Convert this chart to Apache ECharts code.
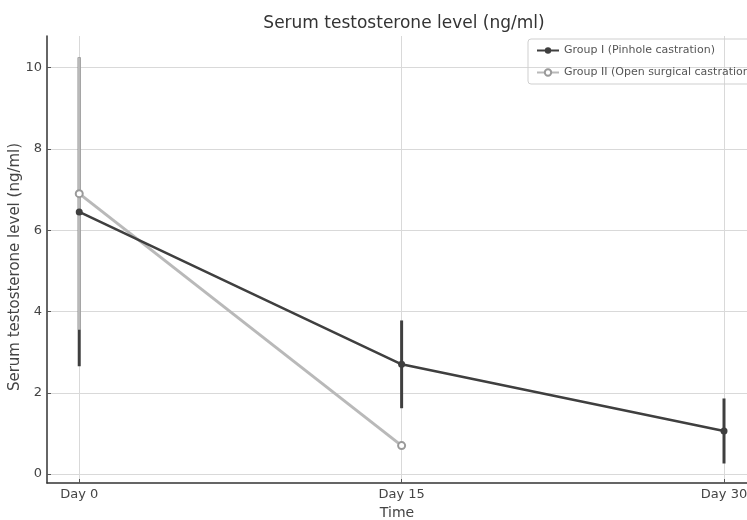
<!DOCTYPE html>
<html>
<head>
<meta charset="utf-8">
<script src="https://cdn.jsdelivr.net/npm/echarts@6/dist/echarts.min.js"></script>
<style>
  html, body { margin: 0; padding: 0; background: #fff; }
  #chart { width: 747px; height: 520px; }
</style>
</head>
<body>
<div id="chart"></div>
<script>
// values
const dayTicks = [0, 15, 30]
const dayLabels = ['Day 0', 'Day 15', 'Day 30']
const yTicks = [0, 2, 4, 6, 8, 10]

const group1Days = [0, 15, 30]
const group1Mean = [6.45, 2.7, 1.06]
const group1Sd = [3.8, 1.08, 0.8]

const group2Days = [0, 15]
const group2Mean = [6.9, 0.7]
const group2Sd = [3.35, 0.05]

const darkColor = '#3f3f3f'
const lightColor = '#b9b9b9'

function errorData(days, mean, sd) {
  return days.map((d, i) => [d, mean[i] - sd[i], mean[i] + sd[i]])
}

function errorBars(color) {
  return function(params, api) {
    const p1 = api.coord([api.value(0), api.value(1)])
    const p2 = api.coord([api.value(0), api.value(2)])
    return {
      type: 'line',
      shape: { x1: p1[0], y1: p1[1], x2: p2[0], y2: p2[1] },
      style: { stroke: color, lineWidth: 3 }
    }
  }
}

const chart = echarts.init(document.getElementById('chart'))
chart.setOption({
  animation: false,
  textStyle: { fontFamily: 'DejaVu Sans' },
  title: {
    text: 'Serum testosterone level (ng/ml)',
    left: 399,
    top: 10,
    textAlign: 'center',
    textStyle: { fontSize: 17, fontWeight: 'normal', color: '#333' }
  },
  // y axis title, placed by hand so it sits where the figure has it
  graphic: [{
    type: 'text',
    x: 15,
    y: 267,
    rotation: Math.PI / 2,
    style: {
      text: 'Serum testosterone level (ng/ml)',
      fontFamily: 'DejaVu Sans',
      fontSize: 15,
      fill: '#444',
      align: 'center',
      verticalAlign: 'middle'
    }
  }],
  legend: {
    orient: 'vertical',
    left: 528,
    top: 39,
    padding: [6, 8, 6, 8],
    itemGap: 11,
    itemWidth: 22,
    itemHeight: 8,
    borderColor: '#cfcfcf',
    borderWidth: 1,
    borderRadius: 3,
    textStyle: { fontSize: 11, color: '#555' },
    data: ['Group I (Pinhole castration)', 'Group II (Open surgical castration)']
  },
  grid: {
    left: 47,
    right: 0,
    top: 36,
    bottom: 37,
    containLabel: false,
    outerBoundsMode: 'none'
  },
  xAxis: {
    type: 'value',
    min: -1.5,
    max: 31.07,
    name: 'Time',
    nameLocation: 'middle',
    nameGap: 22,
    nameTextStyle: { fontSize: 14, color: '#444' },
    axisLine: { onZero: false, lineStyle: { color: '#333', width: 1.5 } },
    axisTick: { show: true, inside: true, length: 4, customValues: dayTicks, lineStyle: { color: '#555' } },
    axisLabel: {
      customValues: dayTicks,
      fontSize: 13,
      color: '#444',
      margin: 5,
      formatter: v => dayLabels[dayTicks.indexOf(v)]
    },
    splitLine: { show: true, customValues: dayTicks, lineStyle: { color: '#d9d9d9', width: 1 } }
  },
  yAxis: {
    type: 'value',
    min: -0.22,
    max: 10.78,
    axisLine: { show: true, onZero: false, lineStyle: { color: '#333', width: 1.5 } },
    axisTick: { show: true, inside: true, length: 4, customValues: yTicks, lineStyle: { color: '#555' } },
    axisLabel: { customValues: yTicks, fontSize: 13, color: '#444', margin: 5 },
    splitLine: { show: true, customValues: yTicks, lineStyle: { color: '#d9d9d9', width: 1 } }
  },
  series: [
    {
      type: 'custom',
      name: 'errI',
      renderItem: errorBars(darkColor),
      data: errorData(group1Days, group1Mean, group1Sd),
      z: 1
    },
    {
      type: 'custom',
      name: 'errII',
      renderItem: errorBars(lightColor),
      data: errorData(group2Days, group2Mean, group2Sd),
      z: 2
    },
    {
      type: 'line',
      name: 'Group II (Open surgical castration)',
      data: group2Days.map((d, i) => [d, group2Mean[i]]),
      symbol: 'emptyCircle',
      symbolSize: 7,
      color: '#9a9a9a',
      lineStyle: { color: lightColor, width: 3 },
      itemStyle: { borderWidth: 1.5 },
      z: 3
    },
    {
      type: 'line',
      name: 'Group I (Pinhole castration)',
      data: group1Days.map((d, i) => [d, group1Mean[i]]),
      symbol: 'circle',
      symbolSize: 7,
      color: darkColor,
      lineStyle: { color: darkColor, width: 2.5 },
      z: 4
    }
  ]
})
</script>
</body>
</html>
